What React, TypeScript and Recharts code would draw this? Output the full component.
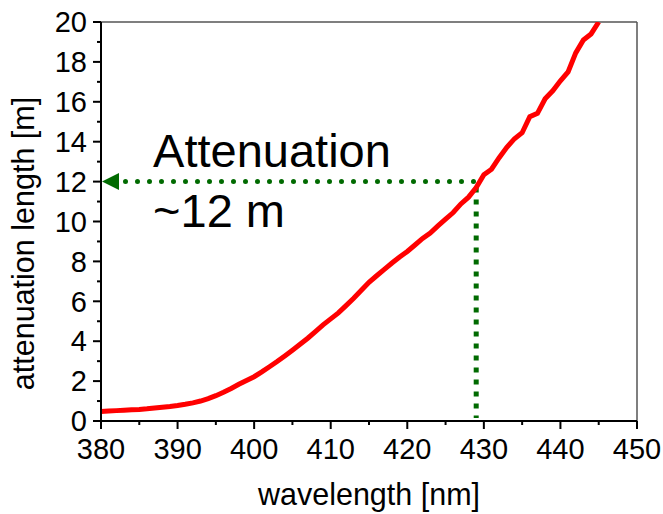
import {
  LineChart,
  Line,
  XAxis,
  YAxis,
  ReferenceLine,
  ReferenceDot,
} from "recharts";

const wavelengths = [
  380, 381, 382, 383, 384, 385, 386, 387, 388, 389, 390, 391, 392, 393, 394,
  395, 396, 397, 398, 399, 400, 401, 402, 403, 404, 405, 406, 407, 408, 409,
  410, 411, 412, 413, 414, 415, 416, 417, 418, 419, 420, 421, 422, 423, 424,
  425, 426, 427, 428, 429, 430, 431, 432, 433, 434, 435, 436, 437, 438, 439,
  440, 441, 442, 443, 444, 445,
];

const attenuation = [
  0.48, 0.5, 0.52, 0.54, 0.56, 0.58, 0.61, 0.65, 0.69, 0.73, 0.78, 0.84, 0.91,
  1.0, 1.12, 1.27, 1.44, 1.63, 1.84, 2.03, 2.22, 2.46, 2.72, 2.98, 3.26, 3.55,
  3.85, 4.15, 4.48, 4.82, 5.12, 5.42, 5.78, 6.15, 6.55, 6.95, 7.28, 7.6, 7.92,
  8.22, 8.5, 8.82, 9.15, 9.42, 9.78, 10.12, 10.45, 10.88, 11.22, 11.7, 12.35,
  12.62, 13.2, 13.72, 14.15, 14.45, 15.25, 15.42, 16.15, 16.55, 17.05, 17.5,
  18.45, 19.1, 19.4, 20.0,
];

const xTicks = [380, 390, 400, 410, 420, 430, 440, 450];
const xMinorTicks = [385, 395, 405, 415, 425, 435, 445];
const yTicks = [0, 2, 4, 6, 8, 10, 12, 14, 16, 18, 20];
const yMinorTicks = [1, 3, 5, 7, 9, 11, 13, 15, 17, 19];

// marked point on the curve
const markWavelength = 429;
const markLength = 12;

const data = wavelengths.map((w, i) => ({ w, len: attenuation[i] }));
const allXTicks = [...xTicks, ...xMinorTicks].sort((a, b) => a - b);
const allYTicks = [...yTicks, ...yMinorTicks].sort((a, b) => a - b);

const FONT = "Arial, 'Liberation Sans', sans-serif";
const GREEN = "#006a00";
const axisStroke = { stroke: "#000", strokeWidth: 2 };

// tickSize/tickMargin are 0, so x/y land on the axis line; draw the tick mark here
function XTick({ x, y, payload }: any) {
  const major = xTicks.includes(payload.value);
  return (
    <g>
      <line x1={x} x2={x} y1={y} y2={y + (major ? 8 : 4)} stroke="#000" strokeWidth={2} />
      {major && (
        <text
          x={x}
          y={y + 17}
          dy="0.71em"
          textAnchor="middle"
          fontSize={29}
          fontFamily={FONT}
          fill="#000"
        >
          {payload.value}
        </text>
      )}
    </g>
  );
}

function YTick({ x, y, payload }: any) {
  const major = yTicks.includes(payload.value);
  return (
    <g>
      <line x1={x} x2={x - (major ? 8 : 4)} y1={y} y2={y} stroke="#000" strokeWidth={2} />
      {major && (
        <text
          x={x - 14}
          y={y}
          dy="0.355em"
          textAnchor="end"
          fontSize={29}
          fontFamily={FONT}
          fill="#000"
        >
          {payload.value}
        </text>
      )}
    </g>
  );
}

export default function App() {
  return (
    <div style={{ position: "absolute", left: 0, top: 0 }}>
      <LineChart
        width={663}
        height={514}
        data={data}
        margin={{ top: 22, right: 26, left: 0, bottom: 0 }}
      >
        <XAxis
          dataKey="w"
          type="number"
          domain={[380, 450]}
          ticks={allXTicks}
          interval={0}
          tickSize={0}
          tickMargin={0}
          tickLine={false}
          axisLine={axisStroke}
          tick={XTick}
          height={93}
          label={{
            content: (p: any) => {
              const vb = p.viewBox;
              return (
                <text
                  x={vb.x + vb.width / 2}
                  y={vb.y + 84}
                  textAnchor="middle"
                  fontSize={30.5}
                  fontFamily={FONT}
                  fill="#000"
                >
                  wavelength [nm]
                </text>
              );
            },
          }}
        />
        <YAxis
          type="number"
          domain={[0, 20]}
          ticks={allYTicks}
          interval={0}
          tickSize={0}
          tickMargin={0}
          tickLine={false}
          axisLine={axisStroke}
          tick={YTick}
          width={101}
          allowDataOverflow
          label={{
            content: (p: any) => {
              const vb = p.viewBox;
              const cx = 23;
              const cy = vb.y + vb.height / 2 + 22;
              return (
                <text
                  x={cx}
                  y={cy}
                  transform={`rotate(-90 ${cx} ${cy})`}
                  textAnchor="middle"
                  dominantBaseline="central"
                  fontSize={30.5}
                  fontFamily={FONT}
                  fill="#000"
                >
                  attenuation length [m]
                </text>
              );
            },
          }}
        />
        <ReferenceLine y={20} stroke="#555" strokeWidth={1.5} />
        <ReferenceLine x={450} stroke="#555" strokeWidth={1.5} />
        <ReferenceLine
          segment={[
            { x: 383.2, y: markLength },
            { x: markWavelength - 0.3, y: markLength },
          ]}
          stroke={GREEN}
          strokeWidth={5}
          strokeLinecap="round"
          strokeDasharray="0 12"
        />
        <ReferenceLine
          segment={[
            { x: markWavelength, y: 11.7 },
            { x: markWavelength, y: 0.15 },
          ]}
          stroke={GREEN}
          strokeWidth={5}
          strokeDasharray="5 7"
        />
        <ReferenceDot
          x={380}
          y={markLength}
          r={0}
          shape={(p: any) => (
            <polygon
              points={`${p.cx + 1},${p.cy} ${p.cx + 18},${p.cy - 8.5} ${p.cx + 18},${p.cy + 8.5}`}
              fill={GREEN}
            />
          )}
        />
        <Line
          dataKey="len"
          stroke="#ff0000"
          strokeWidth={5}
          dot={false}
          type="linear"
          isAnimationActive={false}
        />
        <ReferenceDot
          x={386.8}
          y={12.73}
          r={0}
          fill="none"
          stroke="none"
          label={{
            content: (p: any) => {
              const vb = p.viewBox;
              return (
                <g fontSize={47} fontFamily={FONT} fill="#000">
                  <text x={vb.x} y={vb.y}>
                    Attenuation
                  </text>
                  <text x={vb.x} y={vb.y + 60}>
                    ~12 m
                  </text>
                </g>
              );
            },
          }}
        />
      </LineChart>
    </div>
  );
}
